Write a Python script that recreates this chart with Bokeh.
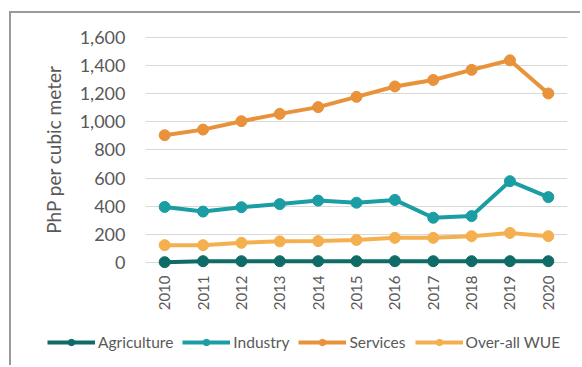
import math
from bokeh.plotting import figure
from bokeh.models import Range1d, FactorRange, FixedTicker, NumeralTickFormatter, Legend, LegendItem
from bokeh.embed import file_html
from bokeh.resources import INLINE

years = ["2010", "2011", "2012", "2013", "2014", "2015", "2016", "2017", "2018", "2019", "2020"]
agriculture = [2, 9, 9, 9, 9, 9, 9, 9, 9, 9, 9]
industry = [395, 362, 393, 415, 440, 425, 445, 318, 330, 578, 465]
services = [905, 945, 1005, 1057, 1105, 1178, 1252, 1298, 1370, 1438, 1202]
overall = [123, 123, 140, 150, 152, 160, 175, 175, 187, 210, 187]
series_names = ["Agriculture", "Industry", "Services", "Over-all WUE"]
colors = ["#0F6B66", "#1A9DA3", "#E8923A", "#F4B04F"]
y_ticks = [0, 200, 400, 600, 800, 1000, 1200, 1400, 1600]

FONT = "Lato"
GRAY = "#595959"
BORDER = "2px solid #9a9a9a"

p = figure(width=571, height=312, x_range=FactorRange(*years, range_padding=0),
           y_range=Range1d(-43, 1650), output_backend="svg", toolbar_location=None,
           min_border_left=134, min_border_right=15, min_border_top=17, min_border_bottom=57)
p.margin = (11, 0, 0, 9)
p.styles = {"border-top": BORDER, "border-left": BORDER}
p.outline_line_color = None
p.background_fill_color = "white"
p.border_fill_color = "white"

p.xgrid.grid_line_color = None
p.ygrid.grid_line_color = "#d9d9d9"
p.ygrid.grid_line_width = 1
p.yaxis.ticker = FixedTicker(ticks=y_ticks)
p.yaxis.formatter = NumeralTickFormatter(format="0,0")
p.yaxis.axis_line_color = None
p.yaxis.major_tick_line_color = None
p.yaxis.minor_tick_line_color = None
p.yaxis.major_tick_out = 0
p.yaxis.major_label_standoff = 20
p.yaxis.major_label_text_font = FONT
p.yaxis.major_label_text_font_size = "18px"
p.yaxis.major_label_text_color = GRAY
p.yaxis.axis_label = "PhP per cubic meter"
p.yaxis.axis_label_text_font = FONT
p.yaxis.axis_label_text_font_size = "19px"
p.yaxis.axis_label_text_font_style = "normal"
p.yaxis.axis_label_text_color = GRAY
p.yaxis.axis_label_standoff = 12

p.xaxis.axis_line_color = None
p.xaxis.major_tick_line_color = None
p.xaxis.major_tick_out = 0
p.xaxis.major_label_orientation = math.pi / 2
p.xaxis.major_label_standoff = 7
p.xaxis.major_label_text_font = FONT
p.xaxis.major_label_text_font_size = "15px"
p.xaxis.major_label_text_color = GRAY

for vals, c in zip([agriculture, industry, services, overall], colors):
    p.line(years, vals, line_color=c, line_width=4)
    p.scatter(years, vals, size=11, fill_color=c, line_color=c)

# legend strip (a separate figure below the chart, holding only the legend)
lf = figure(width=571, height=42, x_range=Range1d(0, 1), y_range=Range1d(0, 1),
            x_axis_type=None, y_axis_type=None, output_backend="svg", toolbar_location=None,
            min_border=0)
lf.margin = (0, 0, 0, 9)
lf.styles = {"border-left": BORDER, "display": "block"}
lf.outline_line_color = None
lf.grid.grid_line_color = None
items = []
for name, c in zip(series_names, colors):
    l = lf.line([5, 6], [5, 6], line_color=c, line_width=4)
    s = lf.scatter([5], [5], size=7, fill_color=c, line_color=c)
    items.append(LegendItem(label=name, renderers=[l, s]))
legend = Legend(items=items, orientation="horizontal", location=(36, 14),
                glyph_width=48, glyph_height=16, label_standoff=3, spacing=9,
                padding=0, margin=0, border_line_color=None, background_fill_alpha=0,
                label_text_font=FONT, label_text_font_size="15.5px", label_text_color=GRAY)
lf.add_layout(legend, "center")

open("out.html", "w").write(file_html([p, lf], INLINE))
